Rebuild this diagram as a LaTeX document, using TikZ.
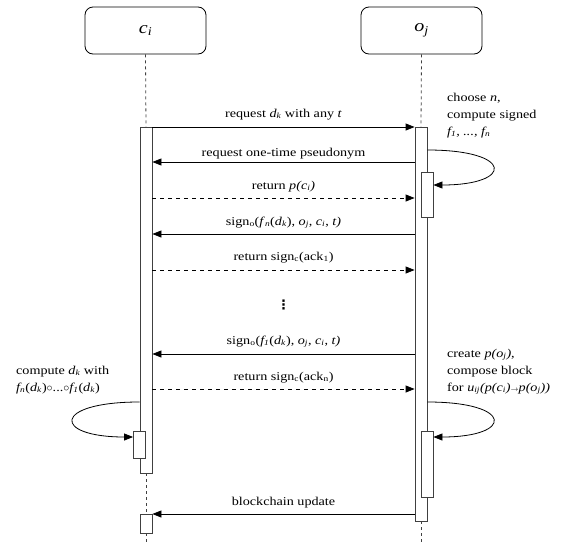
\documentclass[tikz,border=0pt]{standalone}
\usepackage{fontspec}
\setmainfont{Liberation Serif}[FakeStretch=1.18]
\newfontfamily\dejavu{DejaVu Sans}
\usetikzlibrary{arrows.meta}
\begin{document}
\begin{tikzpicture}[x=1pt,y=-1pt,
  actor/.style={draw, rounded corners=8pt, minimum width=121pt, minimum height=47pt, font=\fontsize{17}{20}\selectfont, inner sep=0, line width=0.8pt},
  bar/.style={draw=black!75, fill=white, minimum width=12pt, inner sep=0, line width=0.8pt},
  life/.style={draw=black!75, dash pattern=on 3pt off 3pt, line width=0.8pt},
  msg/.style={-{Triangle[length=9pt,width=7pt]}, line width=0.8pt},
  reply/.style={msg, dash pattern=on 4pt off 4pt},
  lbl/.style={font=\fontsize{12}{14}\selectfont, inner sep=0, anchor=base},
  note/.style={font=\fontsize{12}{17}\selectfont, inner sep=0, anchor=base west, align=left},
]
\useasboundingbox (0,0) rectangle (566,544);
% actors
\node[actor] (ci) at (145.5,30.5) {\textit{c}\textsubscript{\textit{i}}};
\node[actor] (oj) at (421.5,30.5) {\textit{o}\textsubscript{\textit{j}}};
% bars
\node[bar, minimum height=346pt] (cb) at (146,300) {};
\node[bar, minimum height=394pt] (ob) at (421,324) {};
\node[bar, minimum height=45pt] (os1) at (427,194.5) {};
\node[bar, minimum height=66pt] (os2) at (427,464) {};
\node[bar, minimum height=27pt] (cs) at (139.5,444.5) {};
\node[bar, minimum height=19pt] (cl) at (146,523.5) {};
\coordinate (cbot) at (146,544);
\coordinate (obot) at (421,544);
% lifelines
\draw[life] (ci.south) -- (cb.north);
\draw[life] (cb.south) -- (cl.north);
\draw[life] (cl.south) -- (cbot);
\draw[life] (oj.south) -- (ob.north);
\draw[life] (ob.south) -- (obot);
% messages
\node[lbl] (l1) at (283.5,117) {request \textit{d}\textsubscript{\textit{k}} with any \textit{t}};
\draw[msg] (cb.east |- 0,127) -- (ob.west |- 0,127);
\node[lbl] (l2) at (283.5,156.5) {request one-time pseudonym};
\draw[msg] (ob.west |- 0,162) -- (cb.east |- 0,162);
\node[lbl] (l3) at (283.5,189) {return \textit{p(c\textsubscript{i})}};
\draw[reply] (cb.east |- 0,198) -- (ob.west |- 0,198);
\node[lbl] (l4) at (283.5,225) {sign\textsubscript{o}(\textit{f}\textsubscript{\textit{n}}(\textit{d}\textsubscript{\textit{k}}), \textit{o}\textsubscript{\textit{j}}, \textit{c}\textsubscript{\textit{i}}, \textit{t)}};
\draw[msg] (ob.west |- 0,234) -- (cb.east |- 0,234);
\node[lbl] (l5) at (283.5,260) {return sign\textsubscript{c}(ack\textsubscript{1})};
\draw[reply] (cb.east |- 0,270) -- (ob.west |- 0,270);
\node[font=\fontsize{13}{14}\selectfont\dejavu\bfseries, inner sep=0] (dots) at (283.5,305) {⋮};
\node[lbl] (l7) at (283.5,344) {sign\textsubscript{o}(\textit{f\textsubscript{1}}(\textit{d}\textsubscript{\textit{k}}), \textit{o}\textsubscript{\textit{j}}, \textit{c}\textsubscript{\textit{i}}, \textit{t)}};
\draw[msg] (ob.west |- 0,354) -- (cb.east |- 0,354);
\node[lbl] (l8) at (283.5,380) {return sign\textsubscript{c}(ack\textsubscript{n})};
\draw[reply] (cb.east |- 0,389) -- (ob.west |- 0,389);
\node[lbl] (l9) at (283.5,505) {blockchain update};
\draw[msg] (ob.west |- 0,514) -- (cl.east |- 0,514);
% self loops
\node[note] (n1) at (447,135) {choose \textit{n},\\compute signed\\\textit{f\textsubscript{1}, ..., f\textsubscript{n}}};
\draw[msg] (ob.east |- 0,150) .. controls (514,150) and (514,185) .. (os1.east |- 0,185);
\node[note] (n2) at (447,391) {create \textit{p(o\textsubscript{j})},\\compose block\\for \textit{u\textsubscript{ij}(p(c\textsubscript{i})}{\scriptsize$\rightarrow$}\textit{p(o\textsubscript{j}))}};
\draw[msg] (ob.east |- 0,402) .. controls (514,402) and (514,437) .. (os2.east |- 0,437);
\node[note] (n3) at (16,391) {compute \textit{d}\textsubscript{\textit{k}} with\\\textit{f\textsubscript{n}}(\textit{d}\textsubscript{\textit{k}})$\circ$...$\circ$\textit{f\textsubscript{1}}(\textit{d}\textsubscript{\textit{k}})};
\draw[msg] (cb.west |- 0,402) .. controls (52,402) and (52,437) .. (cs.west |- 0,437);
\end{tikzpicture}
\end{document}
